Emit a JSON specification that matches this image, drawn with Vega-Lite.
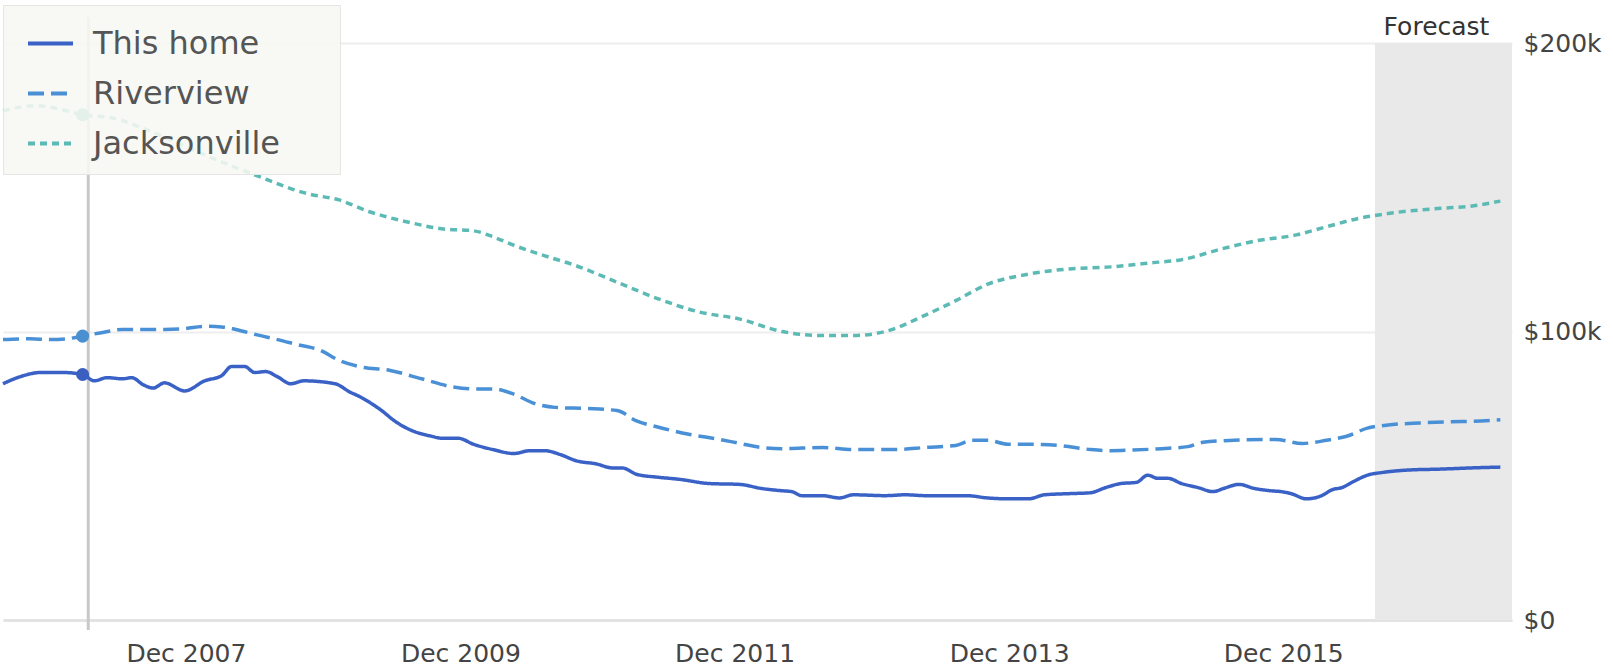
{
  "$schema": "https://vega.github.io/schema/vega-lite/v6.json",
  "width": 1509,
  "height": 577,
  "autosize": "none",
  "padding": {"left": 3, "top": 43, "right": 101, "bottom": 51},
  "background": "white",
  "config": {"view": {"stroke": null}},
  "datasets": {
    "series": [
      {"date": "2006-08-01", "series": "This home", "value": 81900},
      {"date": "2006-09-15", "series": "This home", "value": 84300},
      {"date": "2006-11-10", "series": "This home", "value": 85800},
      {"date": "2007-01-05", "series": "This home", "value": 85800},
      {"date": "2007-03-01", "series": "This home", "value": 85100},
      {"date": "2007-04-01", "series": "This home", "value": 82900},
      {"date": "2007-05-05", "series": "This home", "value": 84000},
      {"date": "2007-06-15", "series": "This home", "value": 83600},
      {"date": "2007-07-10", "series": "This home", "value": 84000},
      {"date": "2007-08-10", "series": "This home", "value": 81500},
      {"date": "2007-09-05", "series": "This home", "value": 80400},
      {"date": "2007-10-05", "series": "This home", "value": 82200},
      {"date": "2007-11-28", "series": "This home", "value": 79400},
      {"date": "2008-01-20", "series": "This home", "value": 82900},
      {"date": "2008-03-05", "series": "This home", "value": 84700},
      {"date": "2008-04-01", "series": "This home", "value": 87900},
      {"date": "2008-05-05", "series": "This home", "value": 87900},
      {"date": "2008-06-01", "series": "This home", "value": 85800},
      {"date": "2008-07-01", "series": "This home", "value": 86100},
      {"date": "2008-08-01", "series": "This home", "value": 84300},
      {"date": "2008-09-05", "series": "This home", "value": 81900},
      {"date": "2008-10-10", "series": "This home", "value": 82900},
      {"date": "2009-01-01", "series": "This home", "value": 81900},
      {"date": "2009-02-10", "series": "This home", "value": 79000},
      {"date": "2009-03-05", "series": "This home", "value": 77600},
      {"date": "2009-05-01", "series": "This home", "value": 73000},
      {"date": "2009-06-12", "series": "This home", "value": 68700},
      {"date": "2009-07-22", "series": "This home", "value": 65800},
      {"date": "2009-09-15", "series": "This home", "value": 63700},
      {"date": "2009-10-12", "series": "This home", "value": 63000},
      {"date": "2009-11-25", "series": "This home", "value": 63000},
      {"date": "2010-01-05", "series": "This home", "value": 60900},
      {"date": "2010-02-28", "series": "This home", "value": 59000},
      {"date": "2010-04-22", "series": "This home", "value": 57700},
      {"date": "2010-06-05", "series": "This home", "value": 58700},
      {"date": "2010-07-12", "series": "This home", "value": 58700},
      {"date": "2010-08-25", "series": "This home", "value": 57300},
      {"date": "2010-10-05", "series": "This home", "value": 55200},
      {"date": "2010-11-28", "series": "This home", "value": 54100},
      {"date": "2011-01-10", "series": "This home", "value": 52700},
      {"date": "2011-02-05", "series": "This home", "value": 52700},
      {"date": "2011-03-15", "series": "This home", "value": 50500},
      {"date": "2011-05-10", "series": "This home", "value": 49500},
      {"date": "2011-07-05", "series": "This home", "value": 48800},
      {"date": "2011-09-25", "series": "This home", "value": 47300},
      {"date": "2011-12-15", "series": "This home", "value": 47000},
      {"date": "2012-02-10", "series": "This home", "value": 45600},
      {"date": "2012-04-05", "series": "This home", "value": 44800},
      {"date": "2012-05-01", "series": "This home", "value": 44500},
      {"date": "2012-05-28", "series": "This home", "value": 43100},
      {"date": "2012-07-22", "series": "This home", "value": 43100},
      {"date": "2012-09-05", "series": "This home", "value": 42300},
      {"date": "2012-10-12", "series": "This home", "value": 43400},
      {"date": "2013-01-05", "series": "This home", "value": 43100},
      {"date": "2013-02-28", "series": "This home", "value": 43400},
      {"date": "2013-04-22", "series": "This home", "value": 43100},
      {"date": "2013-06-15", "series": "This home", "value": 43100},
      {"date": "2013-08-10", "series": "This home", "value": 43100},
      {"date": "2013-10-05", "series": "This home", "value": 42300},
      {"date": "2013-11-28", "series": "This home", "value": 42000},
      {"date": "2014-01-22", "series": "This home", "value": 42000},
      {"date": "2014-03-05", "series": "This home", "value": 43400},
      {"date": "2014-05-10", "series": "This home", "value": 43800},
      {"date": "2014-07-05", "series": "This home", "value": 44100},
      {"date": "2014-08-15", "series": "This home", "value": 45900},
      {"date": "2014-09-25", "series": "This home", "value": 47300},
      {"date": "2014-11-05", "series": "This home", "value": 47700},
      {"date": "2014-12-05", "series": "This home", "value": 50200},
      {"date": "2015-01-01", "series": "This home", "value": 49100},
      {"date": "2015-01-28", "series": "This home", "value": 49100},
      {"date": "2015-03-05", "series": "This home", "value": 47300},
      {"date": "2015-04-18", "series": "This home", "value": 45900},
      {"date": "2015-05-28", "series": "This home", "value": 44500},
      {"date": "2015-06-25", "series": "This home", "value": 45600},
      {"date": "2015-08-05", "series": "This home", "value": 47000},
      {"date": "2015-09-15", "series": "This home", "value": 45600},
      {"date": "2015-10-28", "series": "This home", "value": 44800},
      {"date": "2015-11-25", "series": "This home", "value": 44500},
      {"date": "2015-12-22", "series": "This home", "value": 43800},
      {"date": "2016-02-01", "series": "This home", "value": 42000},
      {"date": "2016-03-12", "series": "This home", "value": 43100},
      {"date": "2016-04-10", "series": "This home", "value": 45200},
      {"date": "2016-05-05", "series": "This home", "value": 45900},
      {"date": "2016-06-05", "series": "This home", "value": 48000},
      {"date": "2016-07-12", "series": "This home", "value": 50200},
      {"date": "2016-08-25", "series": "This home", "value": 51200},
      {"date": "2016-11-01", "series": "This home", "value": 52000},
      {"date": "2017-01-22", "series": "This home", "value": 52300},
      {"date": "2017-04-12", "series": "This home", "value": 52700},
      {"date": "2017-07-01", "series": "This home", "value": 53000},

      {"date": "2006-08-01", "series": "Riverview", "value": 97200},
      {"date": "2006-10-12", "series": "Riverview", "value": 97500},
      {"date": "2006-12-05", "series": "Riverview", "value": 97200},
      {"date": "2007-01-20", "series": "Riverview", "value": 97500},
      {"date": "2007-03-01", "series": "Riverview", "value": 98400},
      {"date": "2007-04-20", "series": "Riverview", "value": 99600},
      {"date": "2007-06-15", "series": "Riverview", "value": 100700},
      {"date": "2007-08-10", "series": "Riverview", "value": 100700},
      {"date": "2007-10-05", "series": "Riverview", "value": 100700},
      {"date": "2007-11-28", "series": "Riverview", "value": 101000},
      {"date": "2008-01-20", "series": "Riverview", "value": 101800},
      {"date": "2008-03-05", "series": "Riverview", "value": 101600},
      {"date": "2008-04-12", "series": "Riverview", "value": 100700},
      {"date": "2008-06-05", "series": "Riverview", "value": 98900},
      {"date": "2008-08-01", "series": "Riverview", "value": 97200},
      {"date": "2008-09-25", "series": "Riverview", "value": 95400},
      {"date": "2008-11-20", "series": "Riverview", "value": 93600},
      {"date": "2009-01-12", "series": "Riverview", "value": 90000},
      {"date": "2009-03-05", "series": "Riverview", "value": 87900},
      {"date": "2009-05-28", "series": "Riverview", "value": 86500},
      {"date": "2009-08-20", "series": "Riverview", "value": 83600},
      {"date": "2009-11-10", "series": "Riverview", "value": 80800},
      {"date": "2010-01-05", "series": "Riverview", "value": 80100},
      {"date": "2010-02-28", "series": "Riverview", "value": 80100},
      {"date": "2010-04-22", "series": "Riverview", "value": 78300},
      {"date": "2010-06-15", "series": "Riverview", "value": 75100},
      {"date": "2010-08-10", "series": "Riverview", "value": 73700},
      {"date": "2010-11-01", "series": "Riverview", "value": 73300},
      {"date": "2011-01-22", "series": "Riverview", "value": 72600},
      {"date": "2011-03-15", "series": "Riverview", "value": 69000},
      {"date": "2011-05-10", "series": "Riverview", "value": 66900},
      {"date": "2011-08-01", "series": "Riverview", "value": 64400},
      {"date": "2011-10-22", "series": "Riverview", "value": 62600},
      {"date": "2011-12-15", "series": "Riverview", "value": 61200},
      {"date": "2012-02-10", "series": "Riverview", "value": 59800},
      {"date": "2012-04-05", "series": "Riverview", "value": 59400},
      {"date": "2012-07-22", "series": "Riverview", "value": 59800},
      {"date": "2012-10-12", "series": "Riverview", "value": 59100},
      {"date": "2013-02-01", "series": "Riverview", "value": 59100},
      {"date": "2013-04-22", "series": "Riverview", "value": 59800},
      {"date": "2013-07-12", "series": "Riverview", "value": 60500},
      {"date": "2013-08-25", "series": "Riverview", "value": 62300},
      {"date": "2013-10-05", "series": "Riverview", "value": 62300},
      {"date": "2013-11-28", "series": "Riverview", "value": 60900},
      {"date": "2014-01-22", "series": "Riverview", "value": 60900},
      {"date": "2014-04-12", "series": "Riverview", "value": 60500},
      {"date": "2014-07-05", "series": "Riverview", "value": 59100},
      {"date": "2014-08-28", "series": "Riverview", "value": 58700},
      {"date": "2014-10-22", "series": "Riverview", "value": 58900},
      {"date": "2015-01-12", "series": "Riverview", "value": 59400},
      {"date": "2015-03-22", "series": "Riverview", "value": 60100},
      {"date": "2015-05-01", "series": "Riverview", "value": 61600},
      {"date": "2015-07-22", "series": "Riverview", "value": 62300},
      {"date": "2015-11-10", "series": "Riverview", "value": 62600},
      {"date": "2016-01-20", "series": "Riverview", "value": 61200},
      {"date": "2016-03-25", "series": "Riverview", "value": 62300},
      {"date": "2016-05-18", "series": "Riverview", "value": 63700},
      {"date": "2016-07-12", "series": "Riverview", "value": 66500},
      {"date": "2016-09-05", "series": "Riverview", "value": 67600},
      {"date": "2016-11-28", "series": "Riverview", "value": 68300},
      {"date": "2017-02-18", "series": "Riverview", "value": 68700},
      {"date": "2017-05-10", "series": "Riverview", "value": 69000},
      {"date": "2017-07-01", "series": "Riverview", "value": 69400},

      {"date": "2006-08-01", "series": "Jacksonville", "value": 176500},
      {"date": "2006-10-28", "series": "Jacksonville", "value": 178300},
      {"date": "2007-01-05", "series": "Jacksonville", "value": 176900},
      {"date": "2007-03-01", "series": "Jacksonville", "value": 175100},
      {"date": "2007-05-20", "series": "Jacksonville", "value": 174000},
      {"date": "2007-09-05", "series": "Jacksonville", "value": 169000},
      {"date": "2008-01-20", "series": "Jacksonville", "value": 161200},
      {"date": "2008-06-05", "series": "Jacksonville", "value": 154100},
      {"date": "2008-10-22", "series": "Jacksonville", "value": 147700},
      {"date": "2009-01-12", "series": "Jacksonville", "value": 145600},
      {"date": "2009-04-01", "series": "Jacksonville", "value": 141600},
      {"date": "2009-07-22", "series": "Jacksonville", "value": 137700},
      {"date": "2009-10-12", "series": "Jacksonville", "value": 135600},
      {"date": "2010-01-05", "series": "Jacksonville", "value": 134900},
      {"date": "2010-02-28", "series": "Jacksonville", "value": 132700},
      {"date": "2010-04-22", "series": "Jacksonville", "value": 129900},
      {"date": "2010-07-12", "series": "Jacksonville", "value": 126300},
      {"date": "2010-10-05", "series": "Jacksonville", "value": 122800},
      {"date": "2011-01-22", "series": "Jacksonville", "value": 117100},
      {"date": "2011-05-10", "series": "Jacksonville", "value": 111400},
      {"date": "2011-08-28", "series": "Jacksonville", "value": 106800},
      {"date": "2011-12-15", "series": "Jacksonville", "value": 104300},
      {"date": "2012-04-05", "series": "Jacksonville", "value": 100000},
      {"date": "2012-07-22", "series": "Jacksonville", "value": 98600},
      {"date": "2012-10-12", "series": "Jacksonville", "value": 98600},
      {"date": "2013-01-05", "series": "Jacksonville", "value": 100000},
      {"date": "2013-04-22", "series": "Jacksonville", "value": 105700},
      {"date": "2013-07-12", "series": "Jacksonville", "value": 110700},
      {"date": "2013-10-05", "series": "Jacksonville", "value": 116400},
      {"date": "2014-01-22", "series": "Jacksonville", "value": 119900},
      {"date": "2014-05-10", "series": "Jacksonville", "value": 121700},
      {"date": "2014-08-28", "series": "Jacksonville", "value": 122400},
      {"date": "2014-12-15", "series": "Jacksonville", "value": 123800},
      {"date": "2015-03-05", "series": "Jacksonville", "value": 124900},
      {"date": "2015-06-25", "series": "Jacksonville", "value": 128800},
      {"date": "2015-09-15", "series": "Jacksonville", "value": 131300},
      {"date": "2016-01-05", "series": "Jacksonville", "value": 133500},
      {"date": "2016-03-25", "series": "Jacksonville", "value": 136300},
      {"date": "2016-06-15", "series": "Jacksonville", "value": 139100},
      {"date": "2016-09-05", "series": "Jacksonville", "value": 140900},
      {"date": "2017-01-22", "series": "Jacksonville", "value": 142700},
      {"date": "2017-04-12", "series": "Jacksonville", "value": 143400},
      {"date": "2017-07-01", "series": "Jacksonville", "value": 145200}
    ],
    "hover": [
      {"date": "2007-03-01", "series": "This home", "value": 85100},
      {"date": "2007-03-01", "series": "Riverview", "value": 98400},
      {"date": "2007-03-01", "series": "Jacksonville", "value": 175100}
    ]
  },
  "layer": [
    {
      "data": {"values": [{"start": "2016-08-01", "end": "2017-08-01", "top": 200000, "bottom": 0}]},
      "mark": {"type": "rect", "color": "#e9e9e9"},
      "encoding": {
        "x": {"field": "start", "type": "temporal"},
        "x2": {"field": "end"},
        "y": {"field": "top", "type": "quantitative"},
        "y2": {"field": "bottom"}
      }
    },
    {
      "data": {"values": [{"date": "2017-01-12", "value": 200000, "label": "Forecast"}]},
      "mark": {"type": "text", "font": "DejaVu Sans", "fontSize": 25, "color": "#333333", "baseline": "alphabetic", "align": "center", "dy": -8},
      "encoding": {
        "x": {"field": "date", "type": "temporal"},
        "y": {"field": "value", "type": "quantitative"},
        "text": {"field": "label"}
      }
    },
    {
      "data": {"values": [{"date": "2007-03-16", "top": 209000, "bottom": -3500}]},
      "mark": {"type": "rule", "color": "#c8c8c8", "strokeWidth": 3},
      "encoding": {
        "x": {"field": "date", "type": "temporal"},
        "y": {"field": "top", "type": "quantitative"},
        "y2": {"field": "bottom"}
      }
    },
    {
      "data": {"name": "series"},
      "mark": {"type": "line", "strokeWidth": 3.5, "interpolate": "monotone"},
      "encoding": {
        "x": {"field": "date", "type": "temporal"},
        "y": {"field": "value", "type": "quantitative"},
        "color": {
          "field": "series", "type": "nominal",
          "scale": {"domain": ["This home", "Riverview", "Jacksonville"], "range": ["#3a62c6", "#4a90d6", "#5cbab5"]},
          "legend": {"orient": "none", "legendX": 0, "legendY": -38, "title": "\u00a0", "titleOrient": "right", "titlePadding": 46, "titleFontSize": 10, "symbolType": "stroke", "symbolSize": 2025, "symbolStrokeWidth": 4, "labelFont": "DejaVu Sans", "labelFontSize": 32, "labelLimit": 500, "labelColor": "#555555", "labelOffset": 18, "padding": 14, "rowPadding": 9, "fillColor": "rgba(247,248,242,0.88)", "strokeColor": "#e5e5e5", "symbolOffset": 9}
        },
        "strokeDash": {
          "field": "series", "type": "nominal",
          "scale": {"domain": ["This home", "Riverview", "Jacksonville"], "range": [[1, 0], [16, 7], [7, 5]]},
          "legend": {"orient": "none", "legendX": 0, "legendY": -38, "title": "\u00a0", "titleOrient": "right", "titlePadding": 46, "titleFontSize": 10, "symbolType": "stroke", "symbolSize": 2025, "symbolStrokeWidth": 4, "labelFont": "DejaVu Sans", "labelFontSize": 32, "labelLimit": 500, "labelColor": "#555555", "labelOffset": 18, "padding": 14, "rowPadding": 9, "fillColor": "rgba(247,248,242,0.88)", "strokeColor": "#e5e5e5", "symbolOffset": 9}
        }
      }
    },
    {
      "data": {"name": "hover"},
      "mark": {"type": "point", "filled": true, "size": 170, "opacity": 1},
      "encoding": {
        "x": {"field": "date", "type": "temporal"},
        "y": {"field": "value", "type": "quantitative"},
        "fill": {
          "field": "series", "type": "nominal",
          "scale": {"domain": ["This home", "Riverview", "Jacksonville"], "range": ["#3a5fc0", "#4a8fd0", "#5cbab5"]},
          "legend": null
        }
      }
    }
  ],
  "encoding": {
    "x": {
      "scale": {"type": "utc", "domain": [{"year": 2006, "month": 8, "date": 1, "utc": true}, {"year": 2017, "month": 8, "date": 1, "utc": true}]},
      "axis": {
        "title": null,
        "values": [{"year": 2007, "month": 12, "date": 1, "utc": true}, {"year": 2009, "month": 12, "date": 1, "utc": true}, {"year": 2011, "month": 12, "date": 1, "utc": true}, {"year": 2013, "month": 12, "date": 1, "utc": true}, {"year": 2015, "month": 12, "date": 1, "utc": true}],
        "labelExpr": "utcFormat(datum.value, '%b %Y')",
        "grid": false, "ticks": false, "domain": true, "domainColor": "#e3e3e3", "domainWidth": 3,
        "labelFont": "DejaVu Sans", "labelFontSize": 25, "labelColor": "#444444", "labelPadding": 21
      }
    },
    "y": {
      "scale": {"domain": [0, 200000], "nice": false},
      "axis": {
        "title": null, "orient": "right",
        "values": [0, 100000, 200000],
        "labelExpr": "datum.value == 0 ? '$0' : '$' + (datum.value / 1000) + 'k'",
        "grid": true, "gridColor": "#eeeeee", "gridWidth": 2,
        "domain": false, "ticks": false,
        "labelFont": "DejaVu Sans", "labelFontSize": 25, "labelColor": "#444444", "labelPadding": 11
      }
    }
  }
}
